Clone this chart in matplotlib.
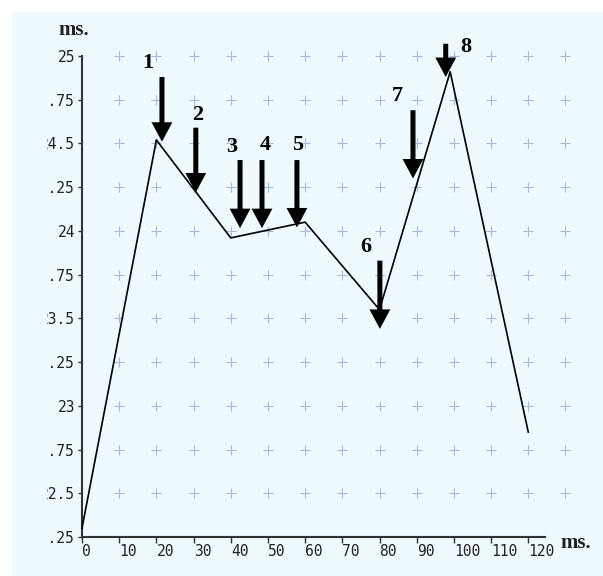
import matplotlib
matplotlib.use('Agg')
import matplotlib.pyplot as plt
from matplotlib.patches import Rectangle
from matplotlib.transforms import Bbox, TransformedBbox

# ---- data ----
time_ms = [0, 20, 40, 60, 80, 99, 120]
latency_ms = [22.3, 24.52, 23.96, 24.05, 23.55, 24.91, 22.85]

x_ticks = [0, 10, 20, 30, 40, 50, 60, 70, 80, 90, 100, 110, 120]
x_tick_labels = ['0', '10', '20', '30', '40', '50', '60', '70', '80', '90', '100', '110', '120']
y_ticks = [22.25, 22.5, 22.75, 23, 23.25, 23.5, 23.75, 24, 24.25, 24.5, 24.75, 25]
y_tick_labels = ['22.25', '22.5', '22.75', '23', '23.25', '23.5', '23.75', '24',
                 '24.25', '24.5', '24.75', '25']

grid_x = [10, 20, 30, 40, 50, 60, 70, 80, 90, 100, 110, 120, 130]
grid_y = [22.5, 22.75, 23, 23.25, 23.5, 23.75, 24, 24.25, 24.5, 24.75, 25]

arrow_ids = ['1', '2', '3', '4', '5', '6', '7', '8']
arrow_x = [21.5, 30.6, 42.5, 48.4, 57.8, 80.1, 89.0, 97.8]
arrow_top = [24.88, 24.59, 24.405, 24.405, 24.405, 23.83, 24.69, 25.07]
arrow_tip = [24.51, 24.22, 24.016, 24.016, 24.02, 23.44, 24.30, 24.88]
label_x = [17.7, 31.0, 40.3, 49.2, 58.1, 76.3, 84.9, 103.2]
label_y = [24.96, 24.66, 24.48, 24.49, 24.49, 23.91, 24.77, 25.05]

BG = '#eefafe'
PLUS = '#aab8da'
INK = '#222222'

fig = plt.figure(figsize=(6.03, 5.76), dpi=100, facecolor='white')
fig.add_artist(Rectangle((12 / 603, 0), 1, 1 - 12 / 576, transform=fig.transFigure,
                         facecolor=BG, edgecolor='none', zorder=-5))

ax = fig.add_axes([82 / 603, 39 / 576, 463 / 603, 481 / 576])
ax.set_facecolor('none')
ax.set_xlim(0, 124.5)
ax.set_ylim(22.25, 25)

for s in ['top', 'right']:
    ax.spines[s].set_visible(False)
for s in ['left', 'bottom']:
    ax.spines[s].set_linewidth(1.5)
    ax.spines[s].set_color('#333333')

# grid of plus markers
gx = [x for y in grid_y for x in grid_x]
gy = [y for y in grid_y for x in grid_x]
ax.plot(gx, gy, linestyle='none', marker='+', markersize=7, markeredgewidth=0.8,
        color=PLUS, clip_on=False, zorder=1)

# data line
ax.plot(time_ms, latency_ms, color='black', lw=1.2, zorder=3, clip_on=False)

# ticks
mono = 'DejaVu Sans Mono'
ax.set_xticks(x_ticks, labels=x_tick_labels, ha='left', family=mono, fontsize=10.5, color=INK)
ax.set_yticks(y_ticks, labels=y_tick_labels, family=mono, fontsize=10.5, color=INK)
ax.tick_params(axis='x', direction='out', length=4, width=1, color='#333333', pad=1)
ax.tick_params(axis='y', direction='out', length=3, width=1, color='#333333', pad=2)

clip = TransformedBbox(Bbox.from_extents(47 / 603, 0, 1, 1), fig.transFigure)
for t in ax.yaxis.get_major_ticks():
    t.label1.set_clip_box(clip)
    t.label1.set_clip_on(True)

# arrows with numbers
for k in range(len(arrow_ids)):
    ax.annotate('', xy=(arrow_x[k], arrow_tip[k]), xytext=(arrow_x[k], arrow_top[k]),
                arrowprops=dict(arrowstyle='simple,head_length=14,head_width=15,tail_width=3.6',
                                mutation_scale=1, facecolor='black', edgecolor='none',
                                lw=0, shrinkA=0, shrinkB=0),
                zorder=4, annotation_clip=False)
    ax.text(label_x[k], label_y[k], arrow_ids[k], ha='center', va='center',
            family='Liberation Serif', fontweight='bold', fontsize=16, color='black',
            zorder=5, clip_on=False)

# axis unit labels
fig.text(74 / 603, 1 - 30 / 576, 'ms.', ha='center', va='center', family='Liberation Serif',
         fontweight='bold', fontsize=15, color=INK)
fig.text(576 / 603, 1 - 543 / 576, 'ms.', ha='center', va='center', family='Liberation Serif',
         fontweight='bold', fontsize=15, color=INK)

fig.savefig('out.png', dpi=100, facecolor='white')
